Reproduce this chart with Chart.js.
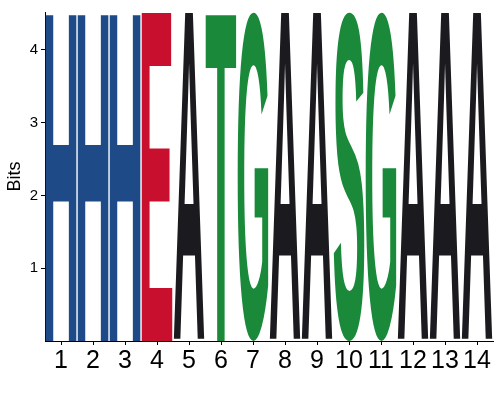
<!DOCTYPE html>
<html>
<head>
<meta charset="utf-8">
<script src="https://cdn.jsdelivr.net/npm/chart.js@4"></script>
<style>
  html, body { margin: 0; padding: 0; background: #fff; }
  canvas { display: block; }
</style>
</head>
<body>
<canvas id="logo" width="500" height="400"></canvas>
<script>
// sequence logo data: one residue per position, stretched to its height in bits
const positions = ['1', '2', '3', '4', '5', '6', '7', '8', '9', '10', '11', '12', '13', '14'];
const residues = ['H', 'H', 'H', 'E', 'A', 'T', 'G', 'A', 'A', 'S', 'G', 'A', 'A', 'A'];
const bits = [4.52, 4.52, 4.52, 4.52, 4.52, 4.52, 4.52, 4.52, 4.52, 4.52, 4.52, 4.52, 4.52, 4.52];
const yTicks = [1, 2, 3, 4];

const residueColors = {
    H: '#1e4a87',
    E: '#c8102e',
    A: '#1b1a1e',
    T: '#1a8a3a',
    G: '#1a8a3a',
    S: '#1a8a3a'
};

// draws each letter so its glyph box fills the bar rectangle
const letterPlugin = {
    id: 'letters',
    afterDatasetsDraw(chart) {
        const ctx = chart.ctx;
        const area = chart.chartArea;
        const meta = chart.getDatasetMeta(0);
        ctx.save();
        ctx.beginPath();
        ctx.rect(area.left, area.top, area.right - area.left, area.bottom - area.top);
        ctx.clip();
        ctx.font = 'bold 200px "Liberation Sans", Arial, sans-serif';
        ctx.textAlign = 'left';
        ctx.textBaseline = 'alphabetic';
        meta.data.forEach((bar, i) => {
            const ch = residues[i];
            const m = ctx.measureText(ch);
            const gw = m.actualBoundingBoxLeft + m.actualBoundingBoxRight;
            const gh = m.actualBoundingBoxAscent + m.actualBoundingBoxDescent;
            const w = bar.width;
            const h = bar.base - bar.y;
            ctx.save();
            ctx.translate(bar.x - w / 2, bar.y);
            ctx.scale(w / gw, h / gh);
            ctx.fillStyle = residueColors[ch];
            ctx.fillText(ch, m.actualBoundingBoxLeft, m.actualBoundingBoxAscent);
            ctx.restore();
        });
        ctx.restore();
    }
};

new Chart(document.getElementById('logo'), {
    type: 'bar',
    data: {
        labels: positions,
        datasets: [{
            data: bits,
            backgroundColor: 'rgba(0,0,0,0)',
            borderWidth: 0,
            categoryPercentage: 1,
            barPercentage: 0.96
        }]
    },
    options: {
        responsive: false,
        animation: false,
        devicePixelRatio: 1,
        layout: { padding: { top: 7, right: 7, left: 0, bottom: 0 } },
        plugins: {
            legend: { display: false },
            tooltip: { enabled: false }
        },
        scales: {
            x: {
                grid: { display: true, drawOnChartArea: false, offset: false, tickLength: 4, color: '#000' },
                border: { display: true, color: '#000', width: 1 },
                ticks: {
                    color: '#000',
                    padding: 1,
                    maxRotation: 0,
                    autoSkip: false,
                    font: { family: '"Liberation Sans", Arial, sans-serif', size: 25 }
                },
                afterFit(scale) { scale.height = 59; }
            },
            y: {
                min: 0,
                max: 4.52,
                afterBuildTicks(scale) { scale.ticks = yTicks.map(v => ({ value: v })); },
                grid: { display: true, drawOnChartArea: false, tickLength: 4, color: '#000' },
                border: { display: true, color: '#000', width: 1 },
                ticks: {
                    color: '#000',
                    padding: 3,
                    font: { family: '"Liberation Sans", Arial, sans-serif', size: 15 }
                },
                title: {
                    display: true,
                    text: 'Bits',
                    color: '#000',
                    padding: { top: 4, bottom: 0 },
                    font: { family: '"Liberation Sans", Arial, sans-serif', size: 18 }
                },
                afterFit(scale) { scale.width = 45; }
            }
        }
    },
    plugins: [letterPlugin]
});
</script>
</body>
</html>
